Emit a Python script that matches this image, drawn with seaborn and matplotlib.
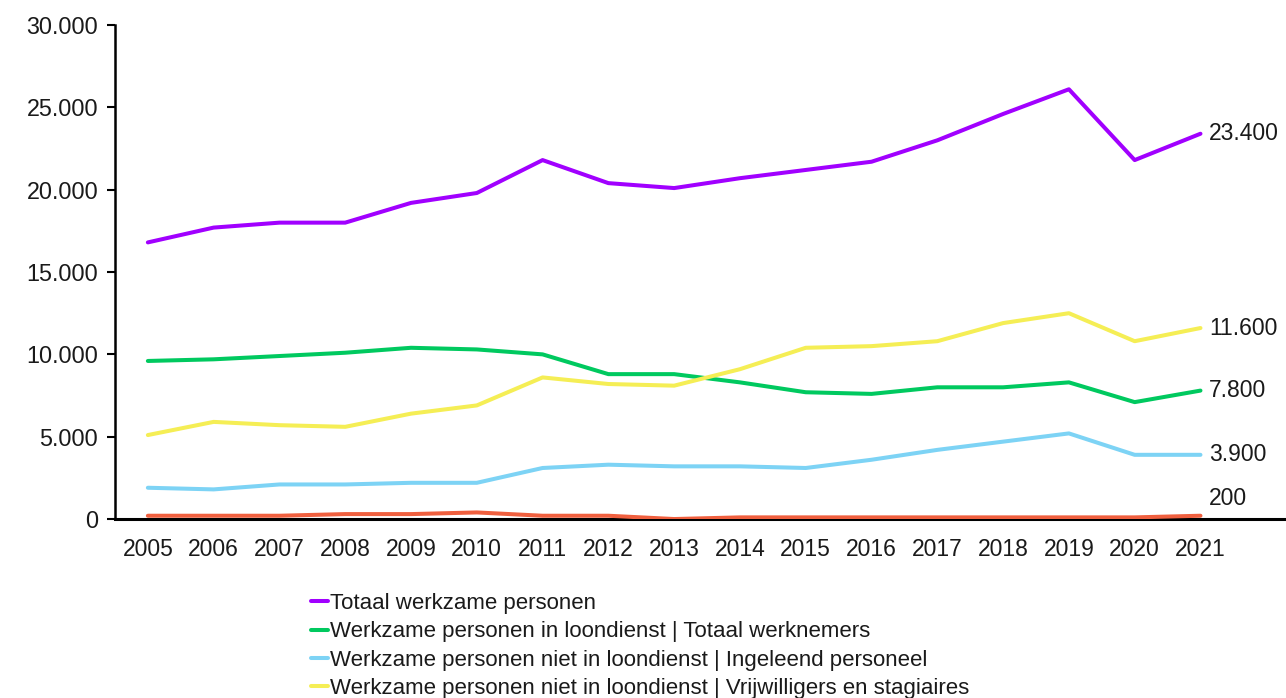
import matplotlib
matplotlib.use("Agg")
import matplotlib.pyplot as plt
import seaborn as sns
import pandas as pd
from matplotlib.ticker import FuncFormatter
from matplotlib.lines import Line2D

years = list(range(2005, 2022))
totaal = [16800, 17700, 18000, 18000, 19200, 19800, 21800, 20400, 20100, 20700, 21200, 21700, 23000, 24600, 26100, 21800, 23400]
loondienst = [9600, 9700, 9900, 10100, 10400, 10300, 10000, 8800, 8800, 8300, 7700, 7600, 8000, 8000, 8300, 7100, 7800]
ingeleend = [1900, 1800, 2100, 2100, 2200, 2200, 3100, 3300, 3200, 3200, 3100, 3600, 4200, 4700, 5200, 3900, 3900]
vrijwilligers = [5100, 5900, 5700, 5600, 6400, 6900, 8600, 8200, 8100, 9100, 10400, 10500, 10800, 11900, 12500, 10800, 11600]
overig = [200, 200, 200, 300, 300, 400, 200, 200, 0, 100, 100, 100, 100, 100, 100, 100, 200]

names = [
    "Totaal werkzame personen",
    "Werkzame personen in loondienst | Totaal werknemers",
    "Werkzame personen niet in loondienst | Ingeleend personeel",
    "Werkzame personen niet in loondienst | Vrijwilligers en stagiaires",
    "Werkzame personen niet in loondienst | Overig",
]
series = [totaal, loondienst, ingeleend, vrijwilligers, overig]
colors = ["#A100FF", "#00C95F", "#7DD3F5", "#F5EE55", "#F0603F"]
end_labels = ["23.400", "7.800", "3.900", "11.600", "200"]

rows = []
for n, s in zip(names, series):
    for i, (y, v) in enumerate(zip(years, s)):
        rows.append({"x": i, "year": y, "value": v, "serie": n})
df = pd.DataFrame(rows)

sns.set_style("white")
plt.rcParams["font.family"] = ["Liberation Sans", "DejaVu Sans"]

fig = plt.figure(figsize=(12.86, 6.98), dpi=100)
ax = fig.add_axes([0.0894, 0.2564, 0.9106, 0.7077])

sns.lineplot(data=df, x="x", y="value", hue="serie", hue_order=names,
             palette=colors, linewidth=2.9, ax=ax, legend=False,
             solid_capstyle="round", zorder=3)

ax.set_xlim(-0.5, 17.3)
ax.set_ylim(0, 30000)
ax.set_xticks(range(len(years)))
ax.set_xticklabels([str(y) for y in years])
ax.set_yticks(range(0, 30001, 5000))
ax.yaxis.set_major_formatter(FuncFormatter(lambda v, p: f"{int(v):,}".replace(",", ".")))
ax.tick_params(axis="y", which="major", left=True, length=6, width=1.5, color="black",
               labelsize=16.8, pad=6, labelcolor="#1a1a1a")
ax.tick_params(axis="x", bottom=False, labelsize=16.5, pad=10, labelcolor="#1a1a1a")
ax.set_xlabel("")
ax.set_ylabel("")
for side in ["top", "right"]:
    ax.spines[side].set_visible(False)
ax.spines["left"].set_color("black")
ax.spines["left"].set_linewidth(1.8)
ax.spines["bottom"].set_color("black")
ax.spines["bottom"].set_linewidth(2.2)
ax.spines["bottom"].set_zorder(2)
ax.grid(False)

last = len(years) - 1
for s, lab in zip(series, end_labels):
    off = 4 if lab == "200" else 0
    ax.annotate(lab, xy=(last, s[-1]), xytext=(6, off), textcoords="offset points",
                va="bottom" if lab == "200" else "center", ha="left",
                fontsize=16.5, color="#1a1a1a")

handles = [Line2D([0], [0], color=c, lw=2.9) for c in colors[:4]]
fig.legend(handles, names[:4], loc="upper left", bbox_to_anchor=(311 / 1286, 1 - 593 / 698),
           frameon=False, fontsize=16, handlelength=0.75, handletextpad=0.1,
           labelspacing=0.33, borderaxespad=0, borderpad=0, labelcolor="#1a1a1a")

fig.savefig("out.png", dpi=100)
